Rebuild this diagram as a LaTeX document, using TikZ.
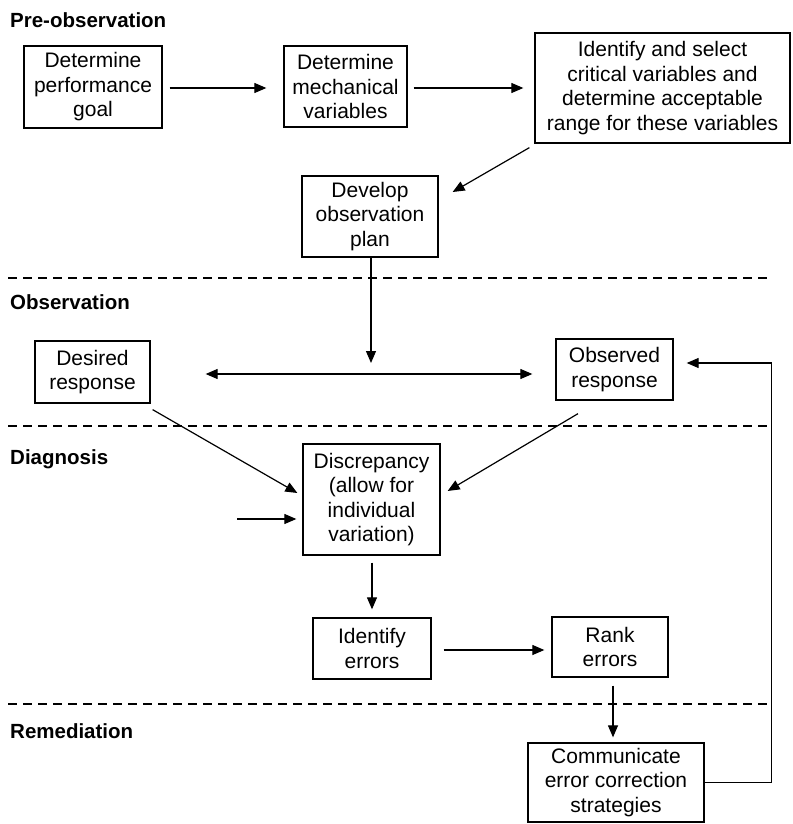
\documentclass[tikz,border=0pt]{standalone}
\usepackage{fontspec}
\setmainfont{Liberation Sans}
\usetikzlibrary{arrows.meta,calc}
\begin{document}
\begin{tikzpicture}[x=1pt,y=-1pt,
  box/.style={draw,line width=1.3pt,align=center,inner sep=0pt,font=\fontsize{21}{24.5}\selectfont},
  arr/.style={line width=1.2pt,-{Triangle[length=12pt,width=10pt]}},
  darr/.style={line width=1.2pt,{Triangle[length=12pt,width=10pt]}-{Triangle[length=12pt,width=10pt]}},
  sep/.style={line width=1.8pt,dash pattern=on 9pt off 6pt},
  head/.style={anchor=base west,inner sep=0pt,font=\fontsize{20.5}{24}\selectfont\bfseries}]
\useasboundingbox (0,0) rectangle (792,824);

% headings
\node[head] (h1) at (10,28) {Pre-observation};
\node[head] (h2) at (10,309) {Observation};
\node[head] (h3) at (10,464) {Diagnosis};
\node[head] (h4) at (10,738) {Remediation};

% separators
\coordinate (s1a) at (8,278); \coordinate (s1b) at (767,278);
\coordinate (s2a) at (8,426); \coordinate (s2b) at (767,426);
\coordinate (s3a) at (8,704); \coordinate (s3b) at (768,704);
\draw[sep] (s1a) -- (s1b);
\draw[sep] (s2a) -- (s2b);
\draw[sep] (s3a) -- (s3b);

% boxes
\node[box,minimum width=138pt,minimum height=82pt] (goal) at (93,87) {Determine\\performance\\goal};
\node[box,minimum width=123pt,minimum height=81pt] (mech) at (345.5,86.5) {Determine\\mechanical\\variables};
\node[box,minimum width=255pt,minimum height=110pt] (crit) at (662.5,88) {Identify and select\\critical variables and\\determine acceptable\\range for these variables};
\node[box,minimum width=136pt,minimum height=81pt] (plan) at (370,216.5) {Develop\\observation\\plan};
\node[box,minimum width=115pt,minimum height=62pt] (desired) at (92.5,372) {Desired\\response};
\node[box,minimum width=117pt,minimum height=61pt] (observed) at (614.5,369.5) {Observed\\response};
\node[box,minimum width=137pt,minimum height=111pt] (disc) at (371.5,499.5) {Discrepancy\\(allow for\\individual\\variation)};
\node[box,minimum width=118pt,minimum height=61pt] (ident) at (372,648.5) {Identify\\errors};
\node[box,minimum width=116pt,minimum height=60pt] (rank) at (610,647) {Rank\\errors};
\node[box,minimum width=176pt,minimum height=79pt] (comm) at (616,782.5) {Communicate\\error correction\\strategies};

% connectors
\draw[arr] ($(goal.east)+(7,1)$) -- ($(mech.west)+(-17,1.5)$);
\draw[arr] ($(mech.east)+(6,1.5)$) -- ($(crit.west)+(-11,0)$);
\draw[arr] ($(crit.south west)+(-5,4)$) -- ($(plan.east)+(14,-24.5)$);
\coordinate (obsmid) at (371,374);
\draw[arr] ($(plan.south)+(1,0)$) -- ($(obsmid)+(0,-11)$);
\draw[darr] ($(desired.east)+(55,2)$) -- ($(observed.west)+(-23,4.5)$);
\draw[arr] ($(desired.south east)+(2,6)$) -- ($(disc.west)+(-5,-6.5)$);
\draw[arr] ($(observed.south)+(-36.5,13)$) -- ($(disc.east)+(7,-8.5)$);
\coordinate (inleft) at (237,519);
\draw[arr] (inleft) -- ($(disc.west)+(-6,19.5)$);
\draw[arr] ($(disc.south)+(0.5,7)$) -- ($(ident.north)+(0,-8)$);
\draw[arr] ($(ident.east)+(12,1.5)$) -- ($(rank.west)+(-7,3)$);
\draw[arr] ($(rank.south)+(3,8)$) -- ($(comm.north)+(-3,-5)$);
\draw[arr] (comm.east) -- ++(67,0) |- ($(observed.east)+(13,-6.5)$);
\end{tikzpicture}
\end{document}
